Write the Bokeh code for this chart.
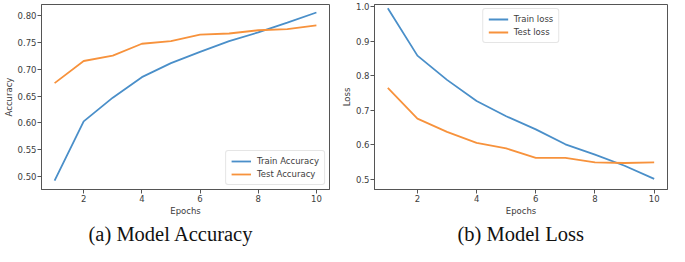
from bokeh.plotting import figure
from bokeh.layouts import row
from bokeh.models import Range1d, FixedTicker, PrintfTickFormatter, Legend, LegendItem, Title
from bokeh.embed import file_html
from bokeh.resources import INLINE

epochs = [1, 2, 3, 4, 5, 6, 7, 8, 9, 10]
train_acc = [0.493, 0.603, 0.647, 0.685, 0.711, 0.732, 0.752, 0.768, 0.786, 0.805]
test_acc = [0.674, 0.715, 0.725, 0.747, 0.752, 0.764, 0.766, 0.772, 0.774, 0.781]
train_loss = [0.995, 0.858, 0.788, 0.727, 0.683, 0.645, 0.602, 0.572, 0.540, 0.502]
test_loss = [0.765, 0.676, 0.638, 0.606, 0.590, 0.563, 0.563, 0.550, 0.548, 0.550]
x_ticks = [2, 4, 6, 8, 10]
acc_ticks = [0.50, 0.55, 0.60, 0.65, 0.70, 0.75, 0.80]
loss_ticks = [0.5, 0.6, 0.7, 0.8, 0.9, 1.0]

BLUE = "#4a8fc9"
ORANGE = "#f7923c"
TXT = "#3c3c3c"
FONT = "DejaVu Sans"


def style(p, yticks, fmt, ylabel):
    p.xaxis.ticker = FixedTicker(ticks=x_ticks)
    p.yaxis.ticker = FixedTicker(ticks=yticks)
    p.yaxis.formatter = PrintfTickFormatter(format=fmt)
    p.xaxis.axis_label = "Epochs"
    p.yaxis.axis_label = ylabel
    p.xgrid.visible = False
    p.ygrid.visible = False
    p.outline_line_color = "#555555"
    p.outline_line_width = 1
    for ax in (p.xaxis[0], p.yaxis[0]):
        ax.axis_line_color = "#555555"
        ax.major_tick_line_color = "#555555"
        ax.minor_tick_line_color = None
        ax.major_tick_out = 4
        ax.major_tick_in = 0
        ax.major_label_standoff = 1
        ax.axis_label_standoff = 1
        ax.major_label_text_font = FONT
        ax.major_label_text_font_size = "8.5px"
        ax.major_label_text_color = TXT
        ax.axis_label_text_font = FONT
        ax.axis_label_text_font_size = "8.5px"
        ax.axis_label_text_font_style = "normal"
        ax.axis_label_text_color = TXT


def make_legend(p, items, loc):
    leg = Legend(items=items, location=loc)
    leg.label_text_font = FONT
    leg.label_text_font_size = "8.5px"
    leg.label_text_color = TXT
    leg.glyph_width = 20
    leg.glyph_height = 10
    leg.label_height = 10
    leg.label_standoff = 6
    leg.spacing = 3
    leg.padding = 5
    leg.margin = 4
    leg.border_line_color = "#cccccc"
    leg.border_line_width = 1
    leg.border_radius = 3
    leg.background_fill_alpha = 0.85
    p.add_layout(leg)


def caption(p, text, offset):
    p.add_layout(Title(text=text, align="left", offset=offset, standoff=4,
                       text_font="Liberation Serif", text_font_size="20.5px",
                       text_font_style="normal", text_color="#111111"), "below")


# (a) accuracy
p1 = figure(width=334, height=246, output_backend="svg", toolbar_location=None,
            x_range=Range1d(0.55, 10.45), y_range=Range1d(0.4766, 0.8198),
            min_border_left=37, min_border_right=5, min_border_top=0, min_border_bottom=40)
style(p1, acc_ticks, "%.2f", "Accuracy")
r1 = p1.line(epochs, train_acc, line_color=BLUE, line_width=1.8)
r2 = p1.line(epochs, test_acc, line_color=ORANGE, line_width=1.8)
make_legend(p1, [LegendItem(label="Train Accuracy", renderers=[r1]),
                 LegendItem(label="Test Accuracy", renderers=[r2])], "bottom_right")
caption(p1, "(a) Model Accuracy", 47)

# (b) loss
p2 = figure(width=335, height=246, output_backend="svg", toolbar_location=None,
            x_range=Range1d(0.55, 10.45), y_range=Range1d(0.4714, 1.0057),
            min_border_left=40, min_border_right=2, min_border_top=4, min_border_bottom=40)
style(p2, loss_ticks, "%.1f", "Loss")
r3 = p2.line(epochs, train_loss, line_color=BLUE, line_width=1.8)
r4 = p2.line(epochs, test_loss, line_color=ORANGE, line_width=1.8)
make_legend(p2, [LegendItem(label="Train loss", renderers=[r3]),
                 LegendItem(label="Test loss", renderers=[r4])], "top_center")
caption(p2, "(b) Model Loss", 83)

layout = row(p1, p2)
open("out.html", "w").write(file_html(layout, INLINE))
